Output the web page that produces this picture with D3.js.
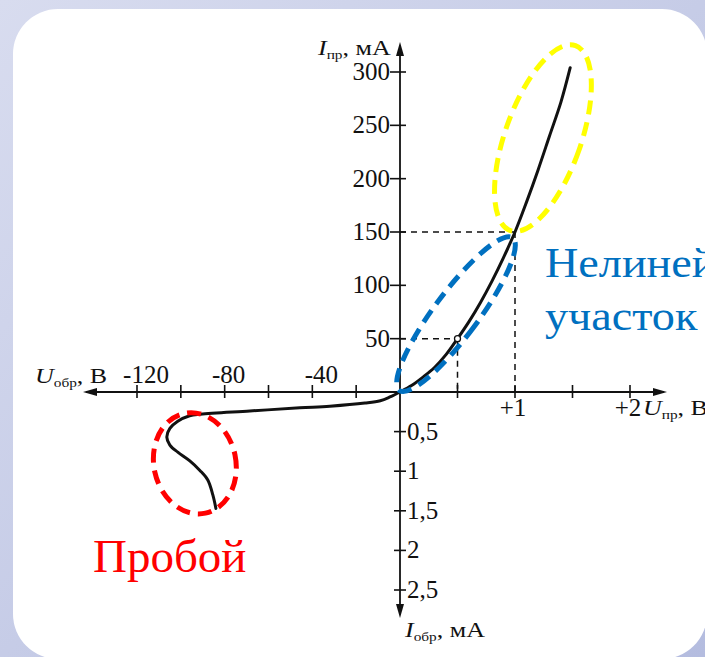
<!DOCTYPE html>
<html>
<head>
<meta charset="utf-8">
<script src="https://cdn.jsdelivr.net/npm/d3@7"></script>
<style>
  html, body { margin: 0; padding: 0; }
  body { width: 705px; height: 657px; overflow: hidden; }
</style>
</head>
<body>
<svg id="chart" width="705" height="657"></svg>
<script>
// reverse branch (breakdown end -> origin), U in V, I in mA (negative = reverse)
var revU = [-84, -85.4, -87.7, -91.3, -95.9, -101.4, -105, -106.4, -105, -101.4, -96, -91, -68.5, -45.7, -32, -16, -9, -4.6, 0];
var revI = [-1.47, -1.30, -1.11, -0.99, -0.87, -0.76, -0.67, -0.57, -0.46, -0.37, -0.30, -0.28, -0.24, -0.20, -0.18, -0.14, -0.11, -0.063, 0];
// forward branch
var fwdU = [0.1, 0.2, 0.3, 0.4, 0.5, 0.6, 0.7, 0.8, 0.9, 1.0, 1.1, 1.2, 1.3, 1.4, 1.48];
var fwdI = [6, 14, 23, 35, 50, 66, 84, 104, 126, 150, 178, 208, 240, 272, 304];

var xTicksNeg = [-120, -100, -80, -60, -40, -20];
var xLabelsNeg = ['-120', '-80', '-40'];
var xTicksPos = [0.5, 1, 1.5, 2];
var xLabelsPos = ['+1', '+2'];
var yTicksPos = [50, 100, 150, 200, 250, 300];
var yTicksNeg = [-0.5, -1, -1.5, -2, -2.5];
var yLabelsNeg = ['0,5', '1', '1,5', '2', '2,5'];

// guide points (U, I) for dashed projections
var guideU = [0.5, 1];
var guideI = [50, 150];

var svg = d3.select('#chart').attr('font-family', '"Liberation Serif", "Times New Roman", serif');

// background + card
var defs = svg.append('defs');
var grad = defs.append('linearGradient').attr('id', 'bg')
  .attr('x1', 0).attr('y1', 0).attr('x2', 1).attr('y2', 1);
grad.append('stop').attr('offset', '0%').attr('stop-color', '#d8dcef');
grad.append('stop').attr('offset', '100%').attr('stop-color', '#b4bcdf');
svg.append('rect').attr('width', 705).attr('height', 657).attr('fill', 'url(#bg)');
svg.append('rect').attr('x', 13).attr('y', 9).attr('width', 694).attr('height', 650)
  .attr('rx', 45).attr('fill', '#fff');

// piecewise scales: reverse and forward sides have different units
var x = d3.scaleLinear().domain([-120, 0, 2]).range([137, 400, 630]);
var y = d3.scaleLinear().domain([-2.5, 0, 300]).range([590, 392, 72]);

var x0 = x(0), y0 = y(0);
var ink = '#111';

// axes
var axes = svg.append('g').attr('stroke', ink).attr('stroke-width', 1.8);
axes.append('line').attr('x1', 86).attr('x2', 664).attr('y1', y0).attr('y2', y0);
axes.append('line').attr('x1', x0).attr('x2', x0).attr('y1', 46).attr('y2', 614);

var arrows = svg.append('g').attr('fill', ink);
arrows.append('path').attr('d', `M83,${y0} l14,-4 l0,8 z`);
arrows.append('path').attr('d', `M667,${y0} l-14,-4 l0,8 z`);
arrows.append('path').attr('d', `M${x0},42 l-4,14 l8,0 z`);
arrows.append('path').attr('d', `M${x0},618 l-4,-14 l8,0 z`);

// ticks
var ticks = svg.append('g').attr('stroke', ink).attr('stroke-width', 1.6);
ticks.selectAll('.xt').data(xTicksNeg.concat(xTicksPos)).enter().append('line')
  .attr('x1', d => x(d)).attr('x2', d => x(d)).attr('y1', y0 - 7).attr('y2', y0 + 6);
ticks.selectAll('.yt').data(yTicksPos).enter().append('line')
  .attr('x1', x0 - 10).attr('x2', x0 + 6).attr('y1', d => y(d)).attr('y2', d => y(d));
ticks.selectAll('.yn').data(yTicksNeg).enter().append('line')
  .attr('x1', x0 - 6).attr('x2', x0 + 6).attr('y1', d => y(d)).attr('y2', d => y(d));

var labels = svg.append('g').attr('fill', ink).attr('font-size', 25);
labels.selectAll('.yl').data(yTicksPos).enter().append('text')
  .attr('x', x0 - 10).attr('y', d => y(d) + 8).attr('text-anchor', 'end').text(d => d);
labels.selectAll('.ynl').data(yTicksNeg).enter().append('text')
  .attr('x', x0 + 7).attr('y', d => y(d) + 8).text((d, i) => yLabelsNeg[i]);
labels.selectAll('.xnl').data(xLabelsNeg).enter().append('text')
  .attr('x', (d, i) => x(+d) + (i === 1 ? 4 : 9)).attr('y', y0 - 9).attr('text-anchor', 'middle').text(d => d);
labels.selectAll('.xpl').data(xLabelsPos).enter().append('text')
  .attr('x', d => x(+d) - 2).attr('y', y0 + 24).attr('text-anchor', 'middle').text(d => d);

// axis names with subscripts (typeset a bit wider, like the source)
function axisName(px, py, letter, sub, rest) {
  var t = svg.append('text').attr('transform', `translate(${px},${py}) scale(1.18,1)`)
    .attr('fill', ink).attr('font-size', 22);
  t.append('tspan').attr('font-style', 'italic').text(letter);
  t.append('tspan').attr('font-size', 13).attr('dy', 4).text(sub);
  t.append('tspan').attr('dy', -4).text(rest);
  return t;
}
axisName(318, 55, 'I', 'пр', ', мА');
axisName(35, 383, 'U', 'обр', ', В');
axisName(643, 415, 'U', 'пр', ', В');
axisName(405, 637, 'I', 'обр', ', мА');

// dashed projections
var guides = svg.append('g').attr('stroke', ink).attr('stroke-width', 1.5)
  .attr('stroke-dasharray', '6,5').attr('fill', 'none');
guideU.forEach(function (u, i) {
  guides.append('line').attr('x1', x0).attr('x2', x(u)).attr('y1', y(guideI[i])).attr('y2', y(guideI[i]));
  guides.append('line').attr('x1', x(u)).attr('x2', x(u)).attr('y1', y(guideI[i])).attr('y2', y0);
});

// characteristic curve
var pts = revU.map((u, i) => [u, revI[i]]).concat(fwdU.map((u, i) => [u, fwdI[i]]));
var line = d3.line().x(d => x(d[0])).y(d => y(d[1])).curve(d3.curveCatmullRom.alpha(0.5));
svg.append('path').datum(pts).attr('d', line)
  .attr('fill', 'none').attr('stroke', ink).attr('stroke-width', 3)
  .attr('stroke-linejoin', 'round').attr('stroke-linecap', 'round');

svg.append('circle').attr('cx', x(guideU[0])).attr('cy', y(guideI[0])).attr('r', 3)
  .attr('fill', '#fff').attr('stroke', ink).attr('stroke-width', 1.3);

// highlight ellipses: centre in data units, radii in px
var ellU = [1.243, 0.487, -93.6];
var ellI = [238, 73, -0.9];
var ellRx = [38, 22, 41];
var ellRy = [98, 95, 51];
var ellRot = [19.4, 36.6, -12];
var ellColor = ['#ffff00', '#0070c0', '#ff0000'];
svg.selectAll('.ell').data(ellU).enter().append('ellipse')
  .attr('transform', (d, i) => `translate(${x(d)},${y(ellI[i])}) rotate(${ellRot[i]})`)
  .attr('rx', (d, i) => ellRx[i]).attr('ry', (d, i) => ellRy[i])
  .attr('fill', 'none').attr('stroke', (d, i) => ellColor[i])
  .attr('stroke-width', 5).attr('stroke-dasharray', '14,8');

// annotations
svg.append('text').attr('transform', 'translate(545,277) scale(1.1,1)').attr('font-size', 42)
  .attr('fill', '#0070c0').text('Нелинейный');
svg.append('text').attr('transform', 'translate(545,330) scale(1.1,1)').attr('font-size', 42)
  .attr('fill', '#0070c0').text('участок');
svg.append('text').attr('x', 93).attr('y', 572).attr('font-size', 47).attr('fill', '#ff0000').text('Пробой');
</script>
</body>
</html>
